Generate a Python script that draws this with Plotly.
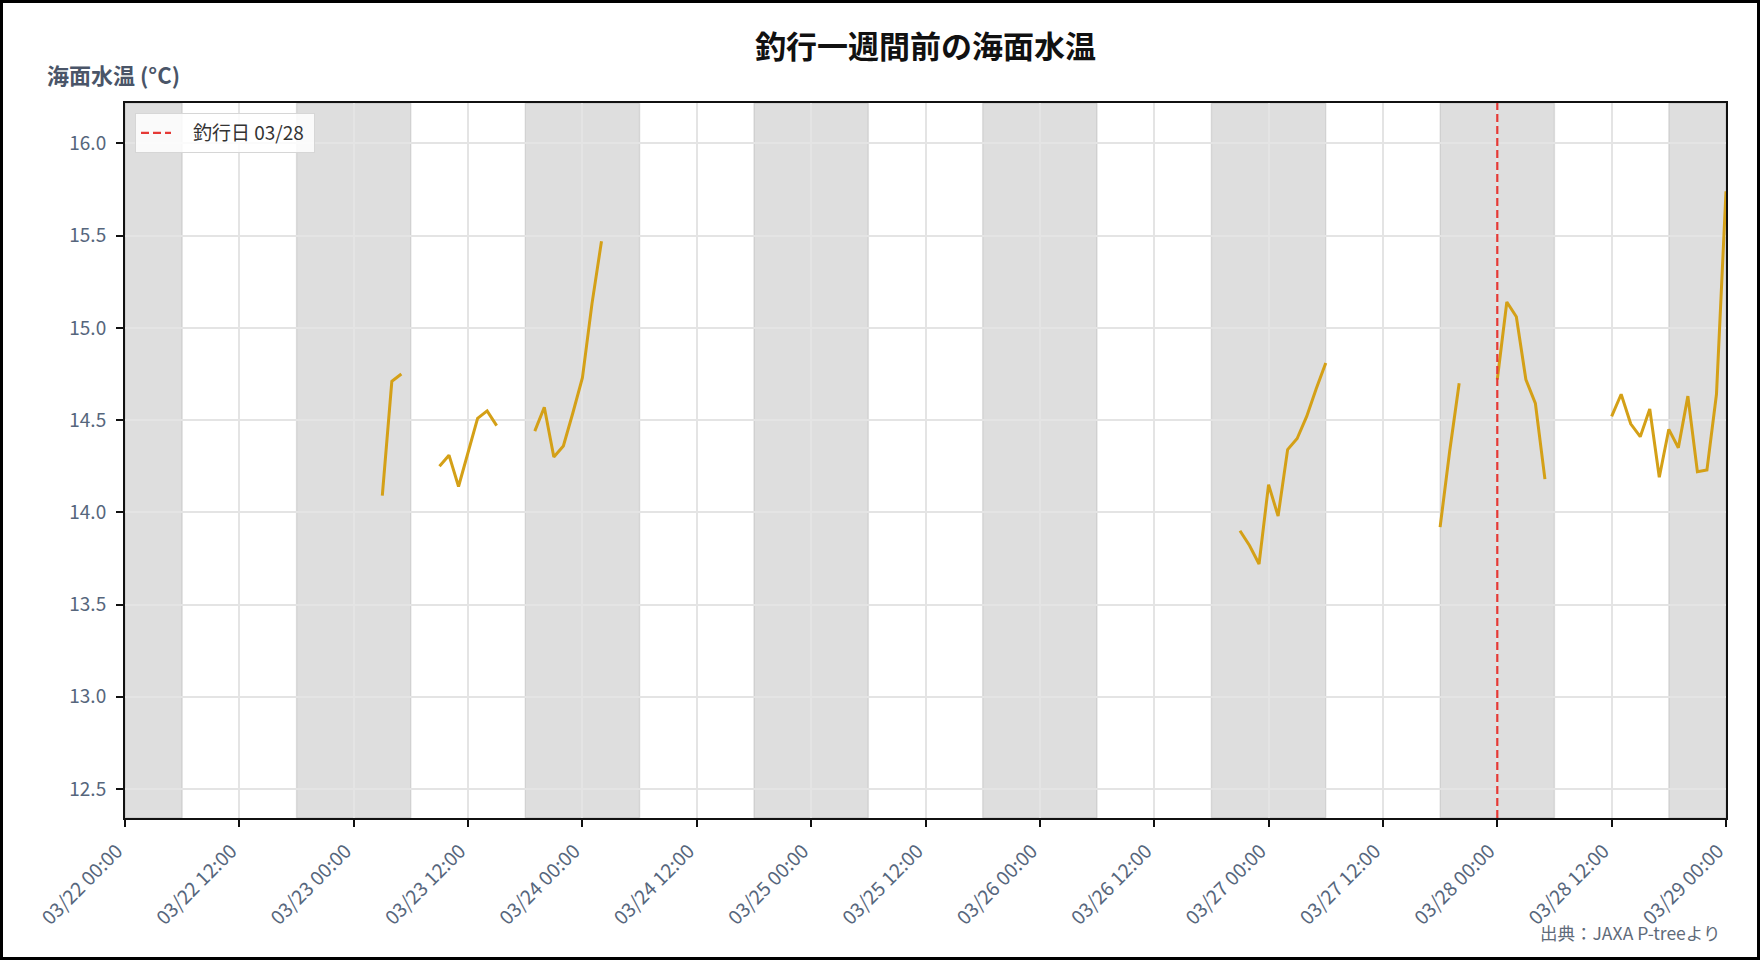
import plotly.graph_objects as go

# ---------------- data ----------------
times = [
    "2024-03-23 03:00", "2024-03-23 04:00", "2024-03-23 05:00", None,
    "2024-03-23 09:00", "2024-03-23 10:00", "2024-03-23 11:00", "2024-03-23 12:00",
    "2024-03-23 13:00", "2024-03-23 14:00", "2024-03-23 15:00", None,
    "2024-03-23 19:00", "2024-03-23 20:00", "2024-03-23 21:00", "2024-03-23 22:00",
    "2024-03-23 23:00", "2024-03-24 00:00", "2024-03-24 01:00", "2024-03-24 02:00", None,
    "2024-03-26 21:00", "2024-03-26 22:00", "2024-03-26 23:00", "2024-03-27 00:00",
    "2024-03-27 01:00", "2024-03-27 02:00", "2024-03-27 03:00", "2024-03-27 04:00",
    "2024-03-27 05:00", "2024-03-27 06:00", None,
    "2024-03-27 18:00", "2024-03-27 19:00", "2024-03-27 20:00", None,
    "2024-03-28 00:00", "2024-03-28 01:00", "2024-03-28 02:00", "2024-03-28 03:00",
    "2024-03-28 04:00", "2024-03-28 05:00", None,
    "2024-03-28 12:00", "2024-03-28 13:00", "2024-03-28 14:00", "2024-03-28 15:00",
    "2024-03-28 16:00", "2024-03-28 17:00", "2024-03-28 18:00", "2024-03-28 19:00",
    "2024-03-28 20:00", "2024-03-28 21:00", "2024-03-28 22:00", "2024-03-28 23:00",
    "2024-03-29 00:00",
]
temps = [
    14.09, 14.71, 14.75, None,
    14.25, 14.31, 14.14, 14.33, 14.51, 14.55, 14.47, None,
    14.44, 14.57, 14.30, 14.36, 14.54, 14.73, 15.13, 15.47, None,
    13.90, 13.82, 13.72, 14.15, 13.98, 14.34, 14.40, 14.52, 14.67, 14.81, None,
    13.92, 14.33, 14.70, None,
    14.72, 15.14, 15.06, 14.72, 14.59, 14.18, None,
    14.52, 14.64, 14.48, 14.41, 14.56, 14.19, 14.45, 14.35, 14.63, 14.22, 14.23, 14.64,
    15.74,
]

night_start = ["2024-03-22 00:00", "2024-03-22 18:00", "2024-03-23 18:00", "2024-03-24 18:00",
               "2024-03-25 18:00", "2024-03-26 18:00", "2024-03-27 18:00", "2024-03-28 18:00"]
night_end = ["2024-03-22 06:00", "2024-03-23 06:00", "2024-03-24 06:00", "2024-03-25 06:00",
             "2024-03-26 06:00", "2024-03-27 06:00", "2024-03-28 06:00", "2024-03-29 00:00"]

fishing_date = "2024-03-28 00:00"
fishing_label = "釣行日 03/28"

x_range = ["2024-03-22 00:00", "2024-03-29 00:00"]
y_range = [12.343, 16.219]
y_ticks = [12.5, 13.0, 13.5, 14.0, 14.5, 15.0, 15.5, 16.0]

title_text = "釣行一週間前の海面水温"
y_title = "海面水温 (°C)"
source_text = "出典：JAXA P-treeより"

# ---------------- layout constants ----------------
W, H = 1760, 960
ML, MR, MT, MB = 125, 34, 103, 142
PW, PH = W - ML - MR, H - MT - MB

def px_to_paper_x(px):
    return (px - ML) / PW

def px_to_paper_y(py):
    return (H - MB - py) / PH

FONT = "Noto Sans CJK JP"
TICK_COLOR = "#56667c"
LINE_COLOR = "#D4A017"
RED = "#E53935"

fig = go.Figure()

fig.add_trace(go.Scatter(
    x=times, y=temps, mode="lines",
    line=dict(color=LINE_COLOR, width=3),
    connectgaps=False, showlegend=False, hoverinfo="x+y",
))

# legend entry for the fishing-day line
fig.add_trace(go.Scatter(
    x=[None], y=[None], mode="lines",
    line=dict(color=RED, width=2.2, dash="8px,4px"),
    name="\u00a0\u00a0\u00a0\u00a0" + fishing_label + "\u00a0", showlegend=True,
))

shapes = []
for s, e in zip(night_start, night_end):
    shapes.append(dict(
        type="rect", xref="x", yref="paper", x0=s, x1=e, y0=0, y1=1,
        fillcolor="rgba(200,200,200,0.6)",
        line=dict(color="rgba(0,0,0,0.09)", width=1.5),
        layer="between",
    ))

shapes.append(dict(
    type="line", xref="x", yref="paper", x0=fishing_date, x1=fishing_date, y0=0, y1=1,
    line=dict(color=RED, width=2.2, dash="8px,4px"), layer="above",
))

# outer figure border
shapes.append(dict(
    type="rect", xref="paper", yref="paper",
    x0=px_to_paper_x(1.5), x1=px_to_paper_x(W - 1.5),
    y0=px_to_paper_y(H - 1.5), y1=px_to_paper_y(1.5),
    line=dict(color="black", width=3), fillcolor="rgba(0,0,0,0)", layer="above",
))

annotations = [
    dict(text=f"<b>{y_title}</b>", xref="paper", yref="paper",
         x=px_to_paper_x(45), y=px_to_paper_y(74), xanchor="left", yanchor="middle",
         showarrow=False, font=dict(family=FONT, size=22, color="#4A5568")),
    dict(text=source_text, xref="paper", yref="paper",
         x=px_to_paper_x(1722), y=px_to_paper_y(932), xanchor="right", yanchor="middle",
         showarrow=False, font=dict(family=FONT, size=17.5, color="#5f6b7a")),
]

fig.update_layout(
    width=W, height=H,
    margin=dict(l=ML, r=MR, t=MT, b=MB, pad=0),
    paper_bgcolor="white", plot_bgcolor="white",
    font=dict(family=FONT, color=TICK_COLOR),
    title=dict(text=f"<b>{title_text}</b>", x=0.5, xref="paper",
               y=1 - 47 / H, yref="container", xanchor="center", yanchor="middle",
               font=dict(family=FONT, size=31, color="#111111")),
    shapes=shapes,
    annotations=annotations,
    legend=dict(x=px_to_paper_x(135), y=px_to_paper_y(113), xanchor="left", yanchor="top",
                bgcolor="rgba(255,255,255,0.85)", bordercolor="#d6d6d6", borderwidth=1,
                font=dict(family=FONT, size=19, color="#333333")),
    showlegend=True,
)

fig.update_xaxes(
    range=x_range, type="date",
    tick0=x_range[0], dtick=12 * 3600 * 1000, tickformat="%m/%d %H:%M",
    tickangle=-45, tickfont=dict(family=FONT, size=19.5, color=TICK_COLOR),
    showgrid=True, gridcolor="#e4e4e4", gridwidth=1.5,
    showline=True, linecolor="#111111", linewidth=2, mirror=True,
    ticks="outside", ticklen=7, tickwidth=2, tickcolor="#111111",
    ticklabelstandoff=5, ticklabelshift=-8, zeroline=False,
)
fig.update_yaxes(
    range=y_range, tickvals=y_ticks, tickformat=".1f",
    tickfont=dict(family=FONT, size=19, color=TICK_COLOR),
    showgrid=True, gridcolor="#e4e4e4", gridwidth=1.5,
    showline=True, linecolor="#111111", linewidth=2, mirror=True,
    ticks="outside", ticklen=7, tickwidth=2, tickcolor="#111111",
    ticklabelstandoff=6, zeroline=False,
)

fig.write_html("out.html", config={"displayModeBar": False},
               post_script="document.body.style.margin='0px';")
